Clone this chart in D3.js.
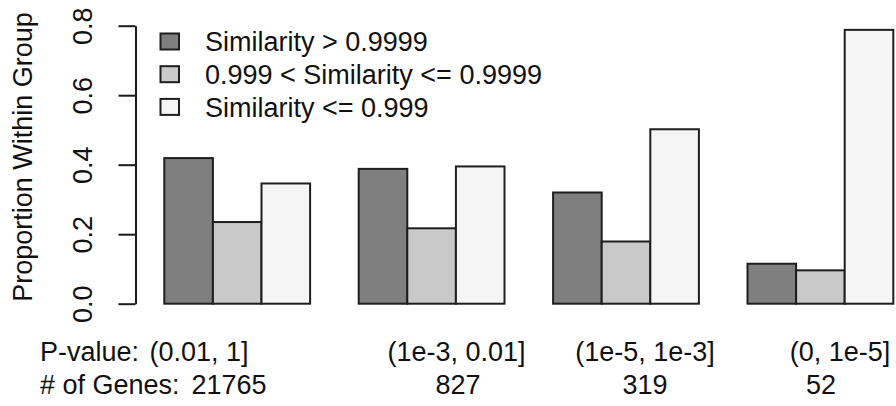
<!DOCTYPE html>
<html>
<head>
<meta charset="utf-8">
<script src="https://cdn.jsdelivr.net/npm/d3@7"></script>
<style>
  body { margin: 0; background: #ffffff; }
  text { font-family: "Liberation Sans", Arial, Helvetica, sans-serif; fill: #111111; }
</style>
</head>
<body>
<svg id="chart" width="896" height="406"></svg>
<script>
// P-value bins and gene counts per group
const pValueBins = ["(0.01, 1]", "(1e-3, 0.01]", "(1e-5, 1e-3]", "(0, 1e-5]"];
const geneCounts = [21765, 827, 319, 52];

// Similarity classes (legend order) and their proportions within each P-value group
const seriesNames = ["Similarity > 0.9999", "0.999 < Similarity <= 0.9999", "Similarity <= 0.999"];
const highSimilarity = [0.419, 0.388, 0.320, 0.115];
const midSimilarity  = [0.235, 0.217, 0.179, 0.096];
const lowSimilarity  = [0.346, 0.395, 0.502, 0.788];

const yTicks = [0, 0.2, 0.4, 0.6, 0.8];
const fills = ["#7f7f7f", "#c9c9c9", "#f5f5f5"];

const series = [highSimilarity, midSimilarity, lowSimilarity];
const fontSize = 27;

const svg = d3.select("#chart");

// Bar slots: each group takes 3 slots, with one empty slot before it
const x = d3.scaleLinear().domain([1, 16]).range([164.3, 893.3]);
const y = d3.scaleLinear().domain([0, 0.8]).range([303.7, 25.7]);

const bars = [];
pValueBins.forEach((bin, g) => {
  series.forEach((vals, s) => {
    bars.push({ g, s, value: vals[g], slot: g * 4 + 1 + s });
  });
});

svg.append("g").attr("class", "bars")
  .selectAll("rect").data(bars).join("rect")
  .attr("x", d => x(d.slot))
  .attr("width", d => x(d.slot + 1) - x(d.slot))
  .attr("y", d => y(d.value))
  .attr("height", d => y(0) - y(d.value))
  .attr("fill", d => fills[d.s])
  .attr("stroke", "#1e1e1e")
  .attr("stroke-width", 2);

// Y axis with rotated tick labels
const yAxis = svg.append("g")
  .attr("transform", "translate(135.5,0)")
  .call(d3.axisLeft(y).tickValues(yTicks).tickSize(17).tickSizeOuter(0).tickFormat(d3.format(".1f")));
yAxis.select(".domain").attr("stroke", "#1a1a1a").attr("stroke-width", 2);
yAxis.selectAll(".tick line").attr("stroke", "#1a1a1a").attr("stroke-width", 2);
yAxis.selectAll(".tick text").remove();
yAxis.selectAll(".tick").append("text")
  .attr("transform", "translate(-43.5,0) rotate(-90)")
  .attr("text-anchor", "middle")
  .style("font-size", fontSize + "px")
  .text(d => d3.format(".1f")(d));

// Y axis title
svg.append("text")
  .attr("transform", "translate(31.5,157) rotate(-90)")
  .attr("text-anchor", "middle")
  .style("font-size", fontSize + "px")
  .text("Proportion Within Group");

// Legend
const legend = svg.append("g").attr("class", "legend");
const legendItems = legend.selectAll("g").data(seriesNames).join("g")
  .attr("transform", (d, i) => `translate(160.5,${33.5 + i * 32.7})`);
legendItems.append("rect")
  .attr("width", 18.5).attr("height", 16)
  .attr("fill", (d, i) => fills[i])
  .attr("stroke", "#1e1e1e").attr("stroke-width", 2);
legendItems.append("text")
  .attr("x", 44.5).attr("y", 8).attr("dy", "0.36em")
  .style("font-size", fontSize + "px")
  .text(d => d);

// Group captions below the bars
const captionRow1 = 361, captionRow2 = 394;
const binCenters = [199, 456.5, 645, 840];
const countCenters = [229, 458, 645, 821];

svg.append("text").attr("x", 40).attr("y", captionRow1)
  .style("font-size", fontSize + "px").text("P-value:");
svg.append("text").attr("x", 40).attr("y", captionRow2)
  .style("font-size", fontSize + "px").text("# of Genes:");

svg.append("g").selectAll("text").data(pValueBins).join("text")
  .attr("x", (d, i) => binCenters[i]).attr("y", captionRow1)
  .attr("text-anchor", "middle")
  .style("font-size", fontSize + "px")
  .text(d => d);

svg.append("g").selectAll("text").data(geneCounts).join("text")
  .attr("x", (d, i) => countCenters[i]).attr("y", captionRow2)
  .attr("text-anchor", "middle")
  .style("font-size", fontSize + "px")
  .text(d => d);
</script>
</body>
</html>
